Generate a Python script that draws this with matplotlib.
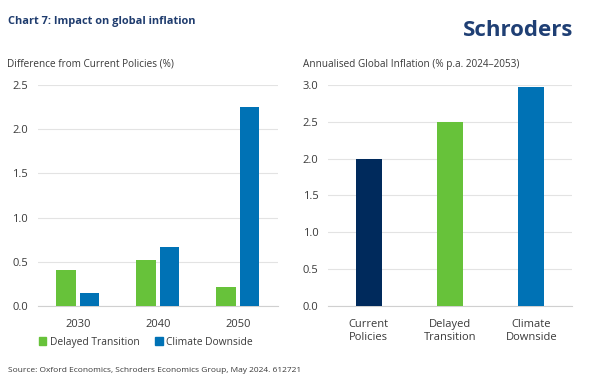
import matplotlib
matplotlib.use("Agg")
import matplotlib.pyplot as plt
import numpy as np
from matplotlib.patches import Rectangle

plt.rcParams['font.family'] = ['Open Sans', 'DejaVu Sans']

years = ["2030", "2040", "2050"]
delayed = [0.41, 0.52, 0.22]
downside = [0.15, 0.67, 2.25]
left_ticks = [0.0, 0.5, 1.0, 1.5, 2.0, 2.5]

scenarios = ["Current\nPolicies", "Delayed\nTransition", "Climate\nDownside"]
inflation = [2.0, 2.5, 2.97]
right_ticks = [0.0, 0.5, 1.0, 1.5, 2.0, 2.5, 3.0]

GREEN = "#67C23A"
BLUE = "#0072B5"
NAVY = "#002A5C"
TXT = "#3A3A3A"
GRID = "#E3E3E3"

fig = plt.figure(figsize=(6, 3.84), dpi=100)
fig.patch.set_facecolor("white")

axL = fig.add_axes([0.063, 0.203, 0.400, 0.576])
axR = fig.add_axes([0.547, 0.203, 0.406, 0.576])

x = np.arange(len(years))
axL.bar(x - 0.145, delayed, width=0.245, color=GREEN, zorder=3)
axL.bar(x + 0.145, downside, width=0.245, color=BLUE, zorder=3)
axL.set_xlim(-0.5, 2.5)
axL.set_ylim(0, 2.5)
axL.set_yticks(left_ticks)
axL.set_yticklabels([f"{t:.1f}" for t in left_ticks])
axL.set_xticks(x)
axL.set_xticklabels(years)

xr = np.arange(len(scenarios))
axR.bar(xr, inflation, width=0.32, color=[NAVY, GREEN, BLUE], zorder=3)
axR.set_xlim(-0.5, 2.5)
axR.set_ylim(0, 3.0)
axR.set_yticks(right_ticks)
axR.set_yticklabels([f"{t:.1f}" for t in right_ticks])
axR.set_xticks(xr)
axR.set_xticklabels(scenarios, linespacing=1.25)

for ax in (axL, axR):
    for s in ("top", "right", "left"):
        ax.spines[s].set_visible(False)
    ax.spines["bottom"].set_color("#D0D0D0")
    ax.spines["bottom"].set_linewidth(0.8)
    ax.grid(axis="y", color=GRID, linewidth=0.8, zorder=0)
    ax.tick_params(length=0, labelsize=8, colors=TXT)
    ax.tick_params(axis="x", pad=9)
    ax.tick_params(axis="y", pad=7)
    ax.set_axisbelow(True)
    for lab in ax.get_xticklabels() + ax.get_yticklabels():
        lab.set_fontweight("medium")

# legend
handles = [Rectangle((0, 0), 1, 1, color=GREEN), Rectangle((0, 0), 1, 1, color=BLUE)]
leg = fig.legend(handles, ["Delayed Transition", "Climate Downside"], loc="center",
                 bbox_to_anchor=(0.243, 0.109), ncol=2, frameon=False,
                 prop={"size": 7.4, "weight": "medium"},
                 handlelength=0.75, handleheight=0.75, handletextpad=0.35,
                 columnspacing=1.5, labelcolor=TXT)

fig.text(0.013, 0.943, "Chart 7: Impact on global inflation", fontsize=7.9,
         fontweight="bold", color="#1F3C6E", va="center", ha="left")
fig.text(0.955, 0.921, "Schroders", fontsize=16, fontweight="bold", color="#1F3F74",
         va="center", ha="right")
fig.text(0.012, 0.833, "Difference from Current Policies (%)", fontsize=7.2,
         color=TXT, va="center", ha="left")
fig.text(0.505, 0.833, "Annualised Global Inflation (% p.a. 2024\u20132053)", fontsize=7.2,
         color=TXT, va="center", ha="left")
fig.text(0.013, 0.036, "Source: Oxford Economics, Schroders Economics Group, May 2024. 612721",
         fontsize=6.05, color=TXT, va="center", ha="left")

fig.savefig("out.png", dpi=100, facecolor="white")
